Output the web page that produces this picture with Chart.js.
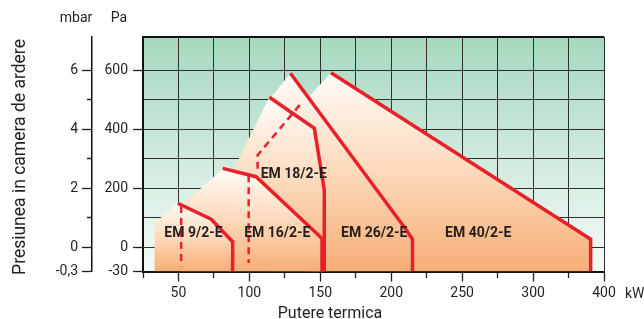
<!DOCTYPE html>
<html>
<head>
<meta charset="utf-8">
<script src="https://cdn.jsdelivr.net/npm/chart.js@4.4.1/dist/chart.umd.min.js"></script>
<style>
  html, body { margin: 0; padding: 0; background: #ffffff; }
  #chart { display: block; }
</style>
</head>
<body>
<canvas id="chart" width="644" height="319"></canvas>
<script>
const kwMin = 25;
const kwMax = 350;
const paMin = -82;
const paMax = 712;

const xTickValues = [25, 50, 75, 100, 125, 150, 175, 200, 225, 250, 275, 300, 325, 350];
const xTickLabels = ["", "50", "", "100", "", "150", "", "200", "", "250", "", "300", "", "400"];
const paTickValues = [-82, 0, 100, 200, 300, 400, 500, 600, 712];
const paTickLabels = ["-30", "0", "", "200", "", "400", "", "600", ""];
const mbarTickValues = [-0.82, 0, 1, 2, 3, 4, 5, 6];
const mbarTickLabels = ["-0,3", "0", "", "2", "", "4", "", "6"];

const modelNames = ["EM 9/2-E", "EM 16/2-E", "EM 18/2-E", "EM 26/2-E", "EM 40/2-E"];
const labelKw = [60.6, 119.7, 131.3, 188, 261.3];
const labelPa = [45, 48, 248, 48, 48];

// EM 9/2-E
const em9EdgeKw = [33, 33];
const em9EdgePa = [-82, 81];
const em9LineKw = [49.5, 73, 88.2, 88.2];
const em9LinePa = [149, 95, 19, -82];
const em9DashKw = [51.9, 51.9];
const em9DashPa = [140, -64];

// EM 16/2-E
const em16EdgeKw = [52, 52];
const em16EdgePa = [-82, 140];
const em16LineKw = [81.2, 104.7, 151.2, 151.2];
const em16LinePa = [267, 239, 30, -82];
const em16DashKw = [99.5, 99.5];
const em16DashPa = [244, -53];

// EM 18/2-E
const em18EdgeKw = [85, 85];
const em18EdgePa = [-82, 226];
const em18LineKw = [114.1, 145.8, 152.8, 152.8];
const em18LinePa = [508, 403, 194, -82];
const em18DashKw = [105.8, 105.8, 137.3];
const em18DashPa = [266, 312, 492];

// EM 26/2-E
const em26EdgeKw = [114, 114];
const em26EdgePa = [-82, 500];
const em26LineKw = [128.9, 209.9, 215, 215];
const em26LinePa = [589, 64, 27, -82];

// EM 40/2-E
const em40EdgeKw = [141, 141];
const em40EdgePa = [-82, 505];
const em40LineKw = [157.5, 340.6, 340.6];
const em40LinePa = [591, 27, -82];

const red = "#e8202a";
const ink = "#231f20";
const gridColor = "#2e2e2e";

function points(kw, pa) {
  return kw.map((x, i) => ({ x, y: pa[i] }));
}

function fieldGradient(chart, peak) {
  const area = chart.chartArea;
  if (!area) return "#fbd8b8";
  const top = chart.scales.y.getPixelForValue(peak);
  const g = chart.ctx.createLinearGradient(0, top, 0, area.bottom);
  g.addColorStop(0, "#fffbf8");
  g.addColorStop(0.5, "#fcd9ba");
  g.addColorStop(1, "#f7ae76");
  return g;
}

function burnerSets(name, edgeKw, edgePa, lineKw, linePa, dashKw, dashPa) {
  const peak = Math.max(...linePa);
  const sets = [
    { label: name, data: points(lineKw, linePa), borderColor: red, borderWidth: 3.5, fill: false },
  ];
  if (dashKw) {
    sets.push({ label: name + " limit", data: points(dashKw, dashPa), borderColor: red, borderWidth: 2.5, borderDash: [7, 5], fill: false });
  }
  sets.push({
    label: name + " field",
    data: points(edgeKw.concat(lineKw), edgePa.concat(linePa)),
    borderWidth: 0,
    borderColor: "rgba(0,0,0,0)",
    fill: "start",
    backgroundColor: (ctx) => fieldGradient(ctx.chart, peak),
  });
  return sets;
}

const datasets = [
  ...burnerSets(modelNames[0], em9EdgeKw, em9EdgePa, em9LineKw, em9LinePa, em9DashKw, em9DashPa),
  ...burnerSets(modelNames[1], em16EdgeKw, em16EdgePa, em16LineKw, em16LinePa, em16DashKw, em16DashPa),
  ...burnerSets(modelNames[2], em18EdgeKw, em18EdgePa, em18LineKw, em18LinePa, em18DashKw, em18DashPa),
  ...burnerSets(modelNames[3], em26EdgeKw, em26EdgePa, em26LineKw, em26LinePa),
  ...burnerSets(modelNames[4], em40EdgeKw, em40EdgePa, em40LineKw, em40LinePa),
];

const plotBackground = {
  id: "plotBackground",
  beforeDraw(chart) {
    const { ctx, chartArea: a } = chart;
    const g = ctx.createLinearGradient(0, a.top, 0, a.bottom);
    g.addColorStop(0, "#a6d8bf");
    g.addColorStop(1, "#f5fbf8");
    ctx.save();
    ctx.fillStyle = g;
    ctx.fillRect(a.left, a.top, a.right - a.left, a.bottom - a.top);
    ctx.restore();
  },
};

const chartTexts = {
  id: "chartTexts",
  afterDraw(chart) {
    const { ctx, scales } = chart;
    ctx.save();
    ctx.fillStyle = ink;
    ctx.textAlign = "center";
    ctx.textBaseline = "middle";
    ctx.font = "bold 14px Roboto";
    modelNames.forEach((name, i) => {
      ctx.fillText(name, scales.x.getPixelForValue(labelKw[i]), scales.y.getPixelForValue(labelPa[i]));
    });

    ctx.font = "14px Roboto";
    ctx.fillText("mbar", 76, 18);
    ctx.fillText("Pa", 119, 18);
    ctx.textAlign = "left";
    ctx.fillText("kW", 625, 294);

    ctx.font = "16px Roboto";
    ctx.textAlign = "center";
    ctx.textBaseline = "alphabetic";
    ctx.fillText("Putere termica", 330, 318);

    ctx.translate(25, 157);
    ctx.rotate(-Math.PI / 2);
    ctx.font = "17.5px Roboto";
    ctx.fillText("Presiunea in camera de ardere", 0, 0);
    ctx.restore();
  },
};

new Chart(document.getElementById("chart"), {
  type: "line",
  data: { datasets },
  options: {
    responsive: false,
    animation: false,
    devicePixelRatio: 1,
    layout: { padding: { left: 0, right: 40, top: 37, bottom: 0 } },
    elements: { point: { radius: 0, hoverRadius: 0 }, line: { tension: 0 } },
    plugins: { legend: { display: false }, tooltip: { enabled: false } },
    scales: {
      x: {
        type: "linear",
        position: "bottom",
        min: kwMin,
        max: kwMax,
        afterBuildTicks(scale) { scale.ticks = xTickValues.map((value) => ({ value })); },
        afterFit(scale) { scale.height = 47.5; },
        ticks: {
          autoSkip: false,
          maxRotation: 0,
          padding: 4,
          color: ink,
          font: { family: "Roboto", size: 14 },
          callback: (value, index) => xTickLabels[index],
        },
        grid: {
          color: gridColor,
          lineWidth: 1,
          tickLength: 10,
          tickColor: ink,
          tickWidth: 1.3,
          tickBorderDash: (c) => (xTickLabels[c.index] ? [] : [5, 100]),
        },
        border: { color: "#111111", width: 2 },
      },
      y: {
        type: "linear",
        position: "left",
        weight: 0,
        min: paMin,
        max: paMax,
        afterBuildTicks(scale) { scale.ticks = paTickValues.map((value) => ({ value })); },
        afterFit(scale) { scale.width = 51; },
        ticks: {
          autoSkip: false,
          padding: 5,
          color: ink,
          font: { family: "Roboto", size: 14 },
          callback: (value, index) => paTickLabels[index],
        },
        grid: {
          color: (c) => (c.index === paTickValues.length - 1 ? "#111111" : gridColor),
          lineWidth: (c) => (c.index === paTickValues.length - 1 ? 2 : 1),
          tickLength: 10,
          tickWidth: 1.3,
          tickColor: (c) => (paTickLabels[c.index] ? ink : "rgba(0,0,0,0)"),
        },
        border: { color: "#111111", width: 2 },
      },
      y2: {
        type: "linear",
        position: "left",
        weight: 1,
        min: paMin / 100,
        max: paMax / 100,
        afterBuildTicks(scale) { scale.ticks = mbarTickValues.map((value) => ({ value })); },
        afterFit(scale) { scale.width = 92; },
        ticks: {
          autoSkip: false,
          padding: 4,
          color: ink,
          font: { family: "Roboto", size: 14 },
          callback: (value, index) => mbarTickLabels[index],
        },
        grid: {
          drawOnChartArea: false,
          tickLength: 10,
          tickWidth: 1.3,
          tickColor: ink,
          tickBorderDash: (c) => (mbarTickLabels[c.index] ? [] : [0, 5, 5, 100]),
        },
        border: { color: "#111111", width: 1.5 },
      },
    },
  },
  plugins: [plotBackground, chartTexts],
});
</script>
</body>
</html>
